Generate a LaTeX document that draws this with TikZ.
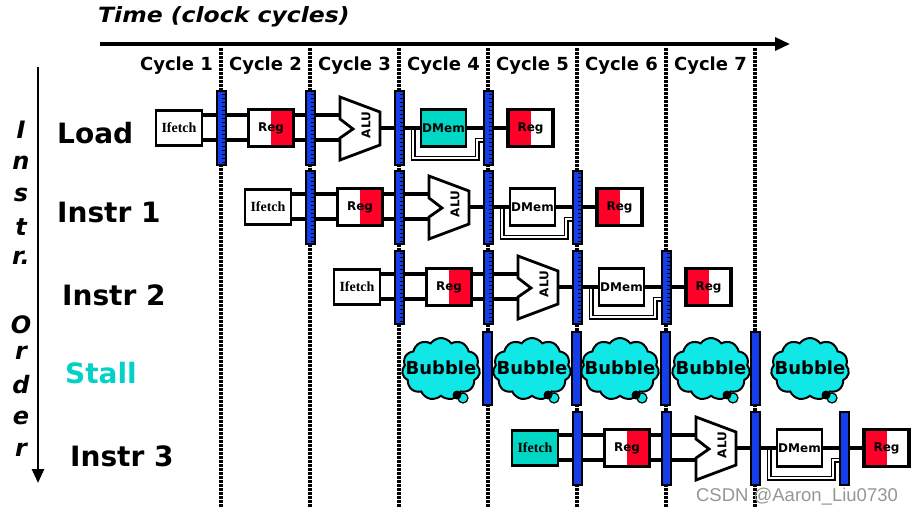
\documentclass[tikz,border=0pt]{standalone}
\usepackage{fontspec}
\setmainfont{DejaVu Sans}
\newfontfamily\serifb{Liberation Serif}
\newfontfamily\wmfont{Liberation Sans}
\usetikzlibrary{calc,shapes.symbols,arrows.meta}
\definecolor{pblue}{RGB}{22,62,232}
\definecolor{pred}{RGB}{255,0,40}
\definecolor{dmcyan}{RGB}{0,214,196}
\definecolor{bcyan}{RGB}{16,232,232}
\definecolor{stallcol}{RGB}{0,210,200}
\definecolor{wmgray}{RGB}{150,150,150}
\tikzset{
  wire/.style={fill=black},
  bypass/.style={draw=black,line width=1.5pt,double=white,double distance=2pt},
  ifbox/.style={rectangle,draw,line width=2.5pt,minimum width=46pt,minimum height=35pt,inner sep=0pt,font=\serifb\bfseries\fontsize{14}{14}\selectfont},
  regbox/.style={rectangle,draw,fill=white,line width=3.5pt,minimum width=45pt,minimum height=37pt,inner sep=0pt,font=\bfseries\fontsize{12}{12}\selectfont},
  dmbox/.style={rectangle,draw,line width=2.8pt,minimum width=45pt,minimum height=37pt,inner sep=0pt,font=\bfseries\fontsize{12}{12}\selectfont},
  rightred/.style={path picture={\fill[pred] (path picture bounding box.north) rectangle (path picture bounding box.south east);}},
  leftred/.style={path picture={\fill[pred] (path picture bounding box.north west) rectangle (path picture bounding box.south);}},
  alushape/.style={draw,fill=white,line width=2.8pt,line join=miter},
  alutxt/.style={rotate=90,font=\bfseries\fontsize{12}{12}\selectfont,inner sep=0pt},
  barbase/.style={rectangle,draw,line width=2pt,fill=pblue,minimum width=9pt,minimum height=73pt,inner sep=0pt},
  rbar/.style={barbase,path picture={\foreach \k in {3,7,...,71}{\draw[line width=0.8pt] ([yshift=-\k pt]path picture bounding box.north east) -- ++(-3.5,0);}}},
  pbar/.style={barbase},
  bubble/.style={cloud,cloud puffs=11,cloud puff arc=110,aspect=1.3,draw,line width=2pt,fill=bcyan,minimum width=78pt,minimum height=62pt,inner sep=0pt},
  bubtxt/.style={font=\bfseries\fontsize{18}{18}\selectfont,inner sep=0pt},
  cyc/.style={font=\bfseries\fontsize{18}{18}\selectfont,inner sep=0pt},
  rowlab/.style={anchor=west,font=\bfseries\fontsize{28}{28}\selectfont,inner sep=0pt},
  vlet/.style={font=\bfseries\itshape\fontsize{24}{24}\selectfont,inner sep=0pt},
  tailc/.style={draw,line width=1.2pt,fill=bcyan}
}
\newcommand\PipeRow[6]{%
\begin{scope}[shift={(#2,#3)}]
 \coordinate (#1aluA) at (340,-13);
 \coordinate (#1aluB) at (340,12);
 \coordinate (#1aluO) at (380,0);
 \coordinate (#1byp) at (413,2);
 \coordinate (#1byE) at (484,12);
 \node[ifbox,fill=#4] (#1if) at (179,0) {Ifetch};
 \node[regbox,rightred] (#1rg) at (271,0) {Reg};
 \node[dmbox,fill=#5] (#1dm) at (443.5,0) {DMem};
 \node[regbox,leftred] (#1wb) at (530.5,0) {Reg};
 \fill[wire] ([yshift=15pt]#1if.east) rectangle ([yshift=11pt]#1rg.west);
 \fill[wire] ([yshift=-10pt]#1if.east) rectangle ([yshift=-14pt]#1rg.west);
 \fill[wire] ([yshift=15pt]#1rg.east) rectangle ([yshift=-2pt]#1aluA);
 \fill[wire] ([yshift=-10pt]#1rg.east) rectangle ([yshift=-2pt]#1aluB);
 \fill[wire] ([yshift=2pt]#1aluO) rectangle ([yshift=-2pt]#1dm.west);
 \fill[wire] ([yshift=2pt]#1dm.east) rectangle ([yshift=-2pt]#1wb.west);
 \draw[bypass] (#1byp) -- ++(0,28) -- ++(64,0) -- ++(0,-18) -- (#1byE);
 \draw[alushape] (340,-31) -- (380,-16) -- (380,17) -- (340,32) -- (340,10) -- (353,1) -- (340,-9) -- cycle;
 \node[alutxt] (#1alu) at (366,-3) {ALU};
 \node[#6] (#1ba) at (221,0) {};
 \node[#6] (#1bb) at (310,0) {};
 \node[#6] (#1bc) at (399,0) {};
 \node[#6] (#1bd) at (488,0) {};
\end{scope}}
\begin{document}
\begin{tikzpicture}[x=1pt,y=-1pt]
\useasboundingbox (0,0) rectangle (915,516);
\fill[white] (0,0) rectangle (915,516);
% dashed cycle boundaries
\foreach \k in {0,...,6}{
  \foreach \yy in {48,52,...,504}{\fill (219.4+89*\k,\yy) rectangle (222.6+89*\k,\yy+3);}
}
% time axis
\coordinate (tA) at (100,44);
\coordinate (tB) at (790,44);
\draw[line width=3.2pt,-{Triangle[length=15pt,width=13pt]}] (tA) -- (tB);
\node[anchor=west,inner sep=0pt,font=\bfseries\itshape\fontsize{21}{21}\selectfont] (ttl) at (98,17) {\scalebox{1.12}[1]{Time (clock cycles)}};
% cycle labels
\foreach \i in {1,...,7}{\node[cyc,fill=white,inner xsep=1pt] (cy\i) at (176.5+89*\i-89,66) {Cycle \i};}
% instruction order arrow
\coordinate (oA) at (38,67);
\coordinate (oB) at (38,483);
\draw[line width=2.6pt,-{Triangle[length=14pt,width=12pt]}] (oA) -- (oB);
\foreach \ch/\yy [count=\n] in {I/130,n/163,s/195,t/227,r./258,O/325,r/353,d/385,e/418,r/450}{\node[vlet] (ol\n) at (21,\yy) {\ch};}
% row labels
\node[rowlab] (lLoad) at (57,133) {Load};
\node[rowlab] (lI1) at (57,212) {Instr 1};
\node[rowlab] (lI2) at (62,295) {Instr 2};
\node[rowlab,text=stallcol] (lSt) at (65,373) {Stall};
\node[rowlab] (lI3) at (70,456) {Instr 3};
% pipeline rows
\PipeRow{ra}{0}{128}{white}{dmcyan}{rbar}
\PipeRow{rb}{89}{207}{white}{white}{rbar}
\PipeRow{rc}{178}{287}{white}{white}{rbar}
\PipeRow{re}{356}{448}{dmcyan}{white}{pbar}
% stall row
\foreach \bx [count=\i] in {441,532,620,711,810}{
  \node[bubble] (bub\i) at (\bx,369) {};
  \draw[tailc] ([xshift=22pt,yshift=-29pt]bub\i.center) circle (5);
  \fill ([xshift=16pt,yshift=-26pt]bub\i.center) circle (4.5);
  \node[bubtxt] (bubt\i) at (\bx,368) {Bubble};
}
\foreach \bx [count=\i] in {487,576,665,755}{\node[pbar] (sb\i) at (\bx,368) {};}
% watermark
\node[inner sep=0pt,text=wmgray,font=\wmfont\fontsize{18.5}{18.5}\selectfont] (wm) at (797,497) {CSDN @Aaron\_Liu0730};
\end{tikzpicture}
\end{document}
